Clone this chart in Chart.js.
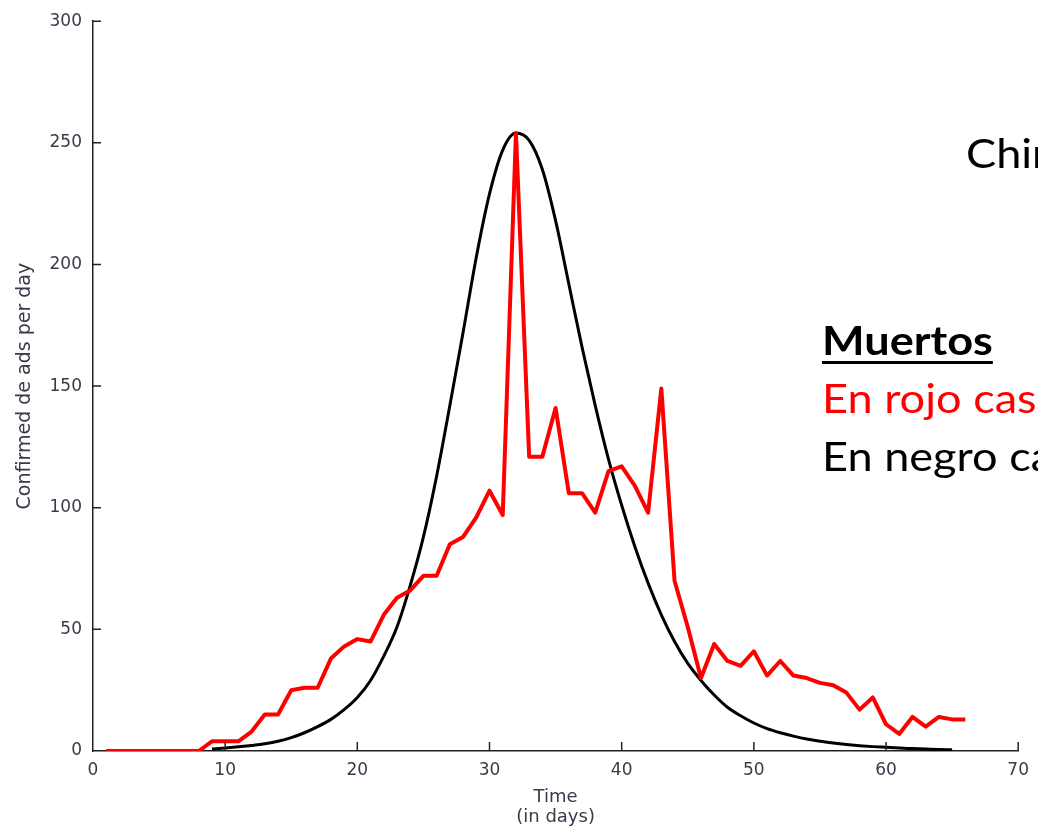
<!DOCTYPE html>
<html>
<head>
<meta charset="utf-8">
<script src="https://cdn.jsdelivr.net/npm/chart.js@4.4.1/dist/chart.umd.min.js"></script>
<style>
  html, body { margin: 0; padding: 0; background: #fff; overflow: hidden; }
  #wrap { position: relative; width: 1038px; height: 839px; }
  .note {
    position: absolute;
    font-family: Lato, 'Open Sans', sans-serif;
    font-size: 41px;
    line-height: 47px;
    white-space: nowrap;
    color: #000;
    transform: scaleX(1.1);
    transform-origin: left center;
  }
  .note.head {
    font-weight: bold;
    text-decoration: underline;
    text-decoration-thickness: 3px;
    text-underline-offset: 6px;
  }
</style>
</head>
<body>
<div id="wrap">
  <canvas id="deathsChart"></canvas>
  <div class="note" style="left:966px; top:129px;">China</div>
  <div class="note head" style="left:822px; top:316px;">Muertos</div>
  <div class="note" style="left:822px; top:374px; color:#ff0000;">En rojo casos</div>
  <div class="note" style="left:822px; top:432px;">En negro casos</div>
</div>

<script>
// Datos
const days = [
  1, 2, 3, 4, 5, 6, 7, 8, 9, 10, 11, 12, 13, 14, 15, 16, 17, 18, 19, 20, 21, 22,
  23, 24, 25, 26, 27, 28, 29, 30, 31, 32, 33, 34, 35, 36, 37, 38, 39, 40, 41, 42, 43, 44,
  45, 46, 47, 48, 49, 50, 51, 52, 53, 54, 55, 56, 57, 58, 59, 60, 61, 62, 63, 64, 65, 66
];
const deaths = [
  0, 0, 0, 0, 0, 0, 0, 0, 4, 4, 4, 8, 15, 15, 25, 26, 26, 38, 43, 46, 45, 56,
  63, 66, 72, 72, 85, 88, 96, 107, 97, 254, 121, 121, 141, 106, 106, 98, 115, 117, 109, 98, 149, 70,
  51, 30, 44, 37, 35, 41, 31, 37, 31, 30, 28, 27, 24, 17, 22, 11, 7, 14, 10, 14, 13, 13
];

const modelDays = [
  9, 10, 11, 12, 13, 14, 15, 16, 17, 18, 19, 20, 21, 22, 23, 24, 25, 26, 27, 28, 29, 30, 31, 32,
  33, 34, 35, 36, 37, 38, 39, 40, 41, 42, 43, 44, 45, 46, 47, 48, 49, 50, 51, 52, 53, 54, 55, 56,
  57, 58, 59, 60, 61, 62, 63, 64, 65
];
const modelDeaths = [
  0.8, 1.2, 1.7, 2.3, 3, 4, 5.5, 7.5, 10, 13, 17, 22, 29, 39, 51, 68, 88, 113, 142, 172, 203, 229, 247, 254,
  251, 239, 218, 192, 166, 142, 120, 101, 84, 69, 56, 45, 36, 29, 23, 18, 14.5, 11.5, 9.2, 7.5, 6.1, 4.9, 4, 3.3,
  2.7, 2.2, 1.8, 1.5, 1.2, 1, 0.8, 0.6, 0.5
];

const xTicks = [0, 10, 20, 30, 40, 50, 60, 70];
const yTicks = [0, 50, 100, 150, 200, 250, 300];

const axisColor = '#222';
const labelColor = '#3a3a4a';

// Marcas de los ejes hacia dentro, como en la figura original
const inwardTicks = {
  id: 'inwardTicks',
  afterDraw(chart) {
    const { ctx, chartArea, scales } = chart;
    ctx.save();
    ctx.strokeStyle = axisColor;
    ctx.lineWidth = 1.5;
    ctx.beginPath();
    xTicks.forEach(v => {
      if (v === 0) return;
      const px = scales.x.getPixelForValue(v);
      ctx.moveTo(px, chartArea.bottom);
      ctx.lineTo(px, chartArea.bottom - 9);
    });
    yTicks.forEach(v => {
      if (v === 0) return;
      const py = scales.y.getPixelForValue(v);
      ctx.moveTo(chartArea.left, py);
      ctx.lineTo(chartArea.left + 8, py);
    });
    ctx.stroke();
    ctx.restore();
  }
};

const ctx = document.getElementById('deathsChart').getContext('2d');
new Chart(ctx, {
  type: 'line',
  data: {
    datasets: [
      {
        label: 'Casos confirmados',
        data: days.map((d, i) => ({ x: d, y: deaths[i] })),
        borderColor: '#ff0000',
        borderWidth: 4,
        pointRadius: 0,
        tension: 0,
        borderJoinStyle: 'round'
      },
      {
        label: 'Modelo',
        data: modelDays.map((d, i) => ({ x: d, y: modelDeaths[i] })),
        borderColor: '#000',
        borderWidth: 3,
        pointRadius: 0,
        cubicInterpolationMode: 'monotone'
      }
    ]
  },
  options: {
    responsive: true,
    maintainAspectRatio: false,
    animation: false,
    layout: { padding: { top: 21, right: 17, left: 0, bottom: 0 } },
    plugins: {
      legend: { display: false },
      tooltip: { enabled: false }
    },
    scales: {
      x: {
        type: 'linear',
        min: 0,
        max: 70,
        afterBuildTicks: s => { s.ticks = xTicks.map(v => ({ value: v })); },
        afterFit: s => { s.height = 88; },
        grid: { drawOnChartArea: false, drawTicks: false },
        border: { color: axisColor, width: 1.5 },
        ticks: {
          color: labelColor,
          padding: 9,
          maxRotation: 0,
          font: { family: 'DejaVu Sans', size: 17 }
        },
        title: {
          display: true,
          text: ['Time', '(in days)'],
          color: labelColor,
          padding: { top: 0, bottom: 12 },
          font: { family: 'DejaVu Sans', size: 18, lineHeight: '20px' }
        }
      },
      y: {
        min: 0,
        max: 300,
        afterBuildTicks: s => { s.ticks = yTicks.map(v => ({ value: v })); },
        afterFit: s => { s.width = 93; },
        grid: { drawOnChartArea: false, drawTicks: false },
        border: { color: axisColor, width: 1.5 },
        ticks: {
          color: labelColor,
          padding: 11,
          font: { family: 'DejaVu Sans', size: 17 }
        },
        title: {
          display: true,
          text: 'Confirmed de ads per day',
          color: labelColor,
          padding: { top: 14, bottom: 0 },
          font: { family: 'DejaVu Sans', size: 19 }
        }
      }
    }
  },
  plugins: [inwardTicks]
});
</script>
</body>
</html>
